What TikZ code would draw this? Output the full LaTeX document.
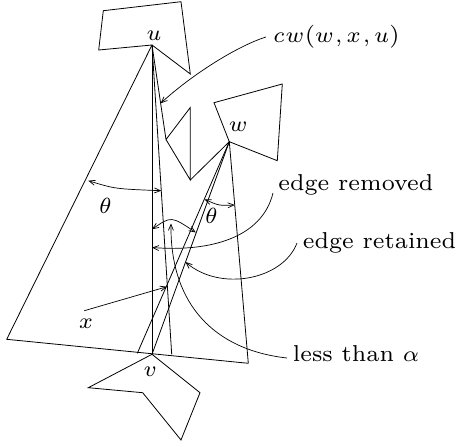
\RequirePackage{fix-cm}
\documentclass[tikz,border=0pt]{standalone}
\usetikzlibrary{arrows.meta}
\font\rs="[lmroman7-regular]" at 23pt
\font\ms=cmmi7 at 22pt
\begin{document}
\begin{tikzpicture}[x=1pt,y=-1pt,line width=0.8pt,
  lbl/.style={inner sep=0pt,font=\ms},
  txt/.style={inner sep=0pt,anchor=base west,font=\rs},
  arr/.style={-{Straight Barb[length=6pt,width=5pt]},line width=0.7pt},
  darr/.style={{Straight Barb[length=6pt,width=5pt]}-{Straight Barb[length=6pt,width=5pt]},line width=0.7pt}]
\useasboundingbox (0,0) rectangle (456,447);
% vertices
\coordinate (u) at (152,45);
\coordinate (U1) at (103.3,10.7);
\coordinate (U2) at (181,1.7);
\coordinate (U3) at (190.3,74);
\coordinate (U4) at (98.7,50);
\coordinate (w) at (229.3,141.7);
\coordinate (W1) at (214,102.7);
\coordinate (W2) at (282.3,84);
\coordinate (W3) at (277.3,160.7);
\coordinate (v) at (152,354.3);
\coordinate (V1) at (88.3,387.7);
\coordinate (V2) at (142.7,392.7);
\coordinate (V3) at (181,440);
\coordinate (V4) at (200,392.7);
\coordinate (A) at (166,139.5);
\coordinate (B) at (190.3,107.5);
\coordinate (C) at (190.3,180);
\coordinate (L) at (6.7,339.3);
\coordinate (R) at (248.3,363.3);
\coordinate (P) at (171.7,354.3);
\coordinate (Q) at (137.3,353.3);
% polygons
\draw (U1) -- (U2) -- (U3) -- (u) -- (U4) -- cycle;
\draw (W1) -- (W2) -- (W3) -- (w) -- cycle;
\draw (v) -- (V1) -- (V2) -- (V3) -- (V4) -- cycle;
% cone and edges
\draw (u) -- (L) -- (R) -- (w);
\draw (u) -- (v);
\draw (u) -- (P);
\draw (u) -- (A) -- (B) -- (C) -- (A);
\draw (C) -- (w);
\draw (w) -- (v);
\draw (w) -- (Q);
% labels
\node[lbl] (lu) at (154,36) {u};
\node[lbl] (lw) at (238,127) {w};
\node[lbl] (lv) at (150,372) {v};
\node[lbl] (lx) at (86,324) {x};
\node[lbl] (th1) at (105,206) {\char"12};
\node[lbl] (th2) at (211,216) {\char"12};
\node[txt] (tcw) at (273,42) {{\ms c\kern1pt w\kern1pt}{\rs(}{\ms w\kern2pt\char"3B\kern4pt x\kern2pt\char"3B\kern4pt u}{\rs)}};
\node[txt] (trem) at (278,190) {edge removed};
\node[txt] (tret) at (302.5,248) {edge retained};
\node[txt] (tles) at (292.5,361) {less than {\ms\char"0B}};
% arrow end points
\coordinate (cwS) at (266,37);
\coordinate (cwE) at (160.6,103.3);
\coordinate (t1a) at (88.3,180.7);
\coordinate (t1b) at (161.3,190.7);
\coordinate (t2a) at (204.4,199.3);
\coordinate (t2b) at (234.7,205);
\coordinate (aa) at (152,229.3);
\coordinate (ab) at (195.8,232.5);
\coordinate (erS) at (273,193);
\coordinate (erE) at (152,247.5);
\coordinate (etS) at (297,243);
\coordinate (etE) at (185.5,262);
\coordinate (ltS) at (287,358);
\coordinate (ltE) at (171,223.5);
\coordinate (xS) at (84.3,310.7);
\coordinate (xE) at (167,286.7);
% arrows
\draw[arr] (cwS) .. controls (240,45) and (195,72) .. (cwE);
\draw[darr] (t1a) .. controls (115,188.9) .. (t1b);
\draw[darr] (t2a) .. controls (219,205.7) .. (t2b);
\draw[darr] (aa) .. controls (171.2,216) .. (ab);
\draw[arr] (erS) .. controls (262,238) and (210,252) .. (erE);
\draw[arr] (etS) .. controls (283,280) and (220,292) .. (etE);
\draw[arr] (ltS) .. controls (215,350) and (170,305) .. (ltE);
\draw[arr] (xS) -- (xE);
\end{tikzpicture}
\end{document}
